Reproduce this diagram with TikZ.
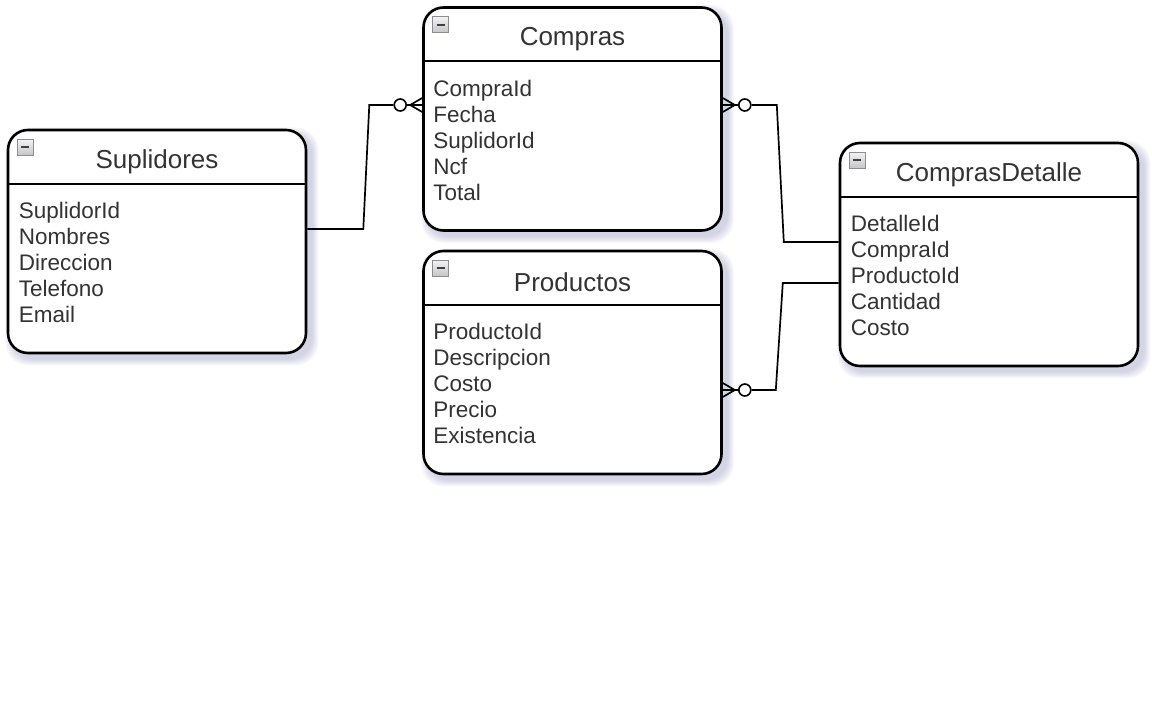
\documentclass[tikz,border=0pt]{standalone}
\usepackage{fontspec}
\setmainfont{Liberation Sans}
\usetikzlibrary{backgrounds}
\definecolor{txtcolor}{rgb}{0.2, 0.2, 0.2}
\definecolor{shadowcolor}{rgb}{0.5, 0.53, 0.72}
\definecolor{iconcolor}{rgb}{0.55, 0.55, 0.58}
\tikzstyle{entity} = [draw=black,line width=2.6pt,rounded corners=20pt,fill=white,inner sep=0pt,minimum width=298pt,minimum height=223pt]
\tikzstyle{title} = [inner sep=0pt,text=txtcolor,font=\fontsize{26}{30}\selectfont]
\tikzstyle{attr} = [inner sep=0pt,anchor=base west,text=txtcolor,font=\fontsize{22.5}{26}\selectfont]
\tikzstyle{icon} = [draw=iconcolor,line width=0.8pt,top color=gray!10,bottom color=gray!45,minimum size=16pt,inner sep=0pt,anchor=north west]
\tikzstyle{zero} = [circle,draw,fill=white,line width=1.6pt,minimum size=12pt,inner sep=0pt]
\tikzstyle{link} = [line width=1.7pt]

\begin{document}
\begin{tikzpicture}[x=1pt,y=-1pt]
		\useasboundingbox (0,0) rectangle (1152,720);

		\node [entity](sup) at (157,241.5){};
		\node [entity](com) at (572.5,119){};
		\node [entity](pro) at (572.5,362.5){};
		\node [entity](det) at (989,254.5){};

		\begin{scope}[on background layer]
		\fill[white] (0,0) rectangle (1152,720);
		\foreach \n in {sup,com,pro,det}
			\foreach \e in {0,...,6}
				\fill[shadowcolor,opacity=0.055,rounded corners=22pt]
					([xshift=5pt-\e pt,yshift=-5pt+\e pt]\n.north west) rectangle ([xshift=5pt+\e pt,yshift=-5pt-\e pt]\n.south east);
		\end{scope}

		\foreach \n/\t in {sup/Suplidores, com/Compras, pro/Productos, det/ComprasDetalle}{
			\draw[line width=2.2pt] ([yshift=-55pt]\n.north west) -- ([yshift=-55pt]\n.north east);
			\node [title](\n-title) at ([yshift=-33pt]\n.north){\t};
			\node [icon](\n-icon) at ([xshift=10pt,yshift=-10pt]\n.north west){\color{black!75}\rule{8pt}{2pt}};
		}

		\foreach \a [count=\i] in {SuplidorId,Nombres,Direccion,Telefono,Email}
			\node [attr](sup-\i) at ([xshift=12pt,yshift={-90pt-(\i-1)*26pt}]sup.north west){\a};
		\foreach \a [count=\i] in {CompraId,Fecha,SuplidorId,Ncf,Total}
			\node [attr](com-\i) at ([xshift=11pt,yshift={-90pt-(\i-1)*26pt}]com.north west){\a};
		\foreach \a [count=\i] in {ProductoId,Descripcion,Costo,Precio,Existencia}
			\node [attr](pro-\i) at ([xshift=11pt,yshift={-90pt-(\i-1)*26pt}]pro.north west){\a};
		\foreach \a [count=\i] in {DetalleId,CompraId,ProductoId,Cantidad,Costo}
			\node [attr](det-\i) at ([xshift=12pt,yshift={-90pt-(\i-1)*26pt}]det.north west){\a};

		\coordinate (sup-out) at ([yshift=12.5pt]sup.east);
		\coordinate (com-in) at ([yshift=14pt]com.west);
		\coordinate (com-out) at ([yshift=14pt]com.east);
		\coordinate (pro-out) at ([yshift=-27.5pt]pro.east);
		\coordinate (det-in1) at ([yshift=12.5pt]det.west);
		\coordinate (det-in2) at ([yshift=-28.5pt]det.west);

		\foreach \e/\d in {com-in/-1, com-out/1, pro-out/1}{
			\coordinate (\e-tip) at ([xshift=\d*12pt]\e);
			\draw[link] ([yshift=7pt]\e) -- (\e-tip) -- ([yshift=-7pt]\e);
			\draw[link] (\e) -- ([xshift=\d*18pt]\e);
			\node [zero](\e-zero) at ([xshift=\d*22pt]\e){};
		}

		\draw[link] (sup-out) -- ++(56,0) -- ++(6,-124) -- (com-in-zero);
		\draw[link] (com-out-zero) -- ++(32,0) -- ++(7,137) -- (det-in1);
		\draw[link] (pro-out-zero) -- ++(31,0) -- ++(7,-107) -- (det-in2);
		\end{tikzpicture}
\end{document}
